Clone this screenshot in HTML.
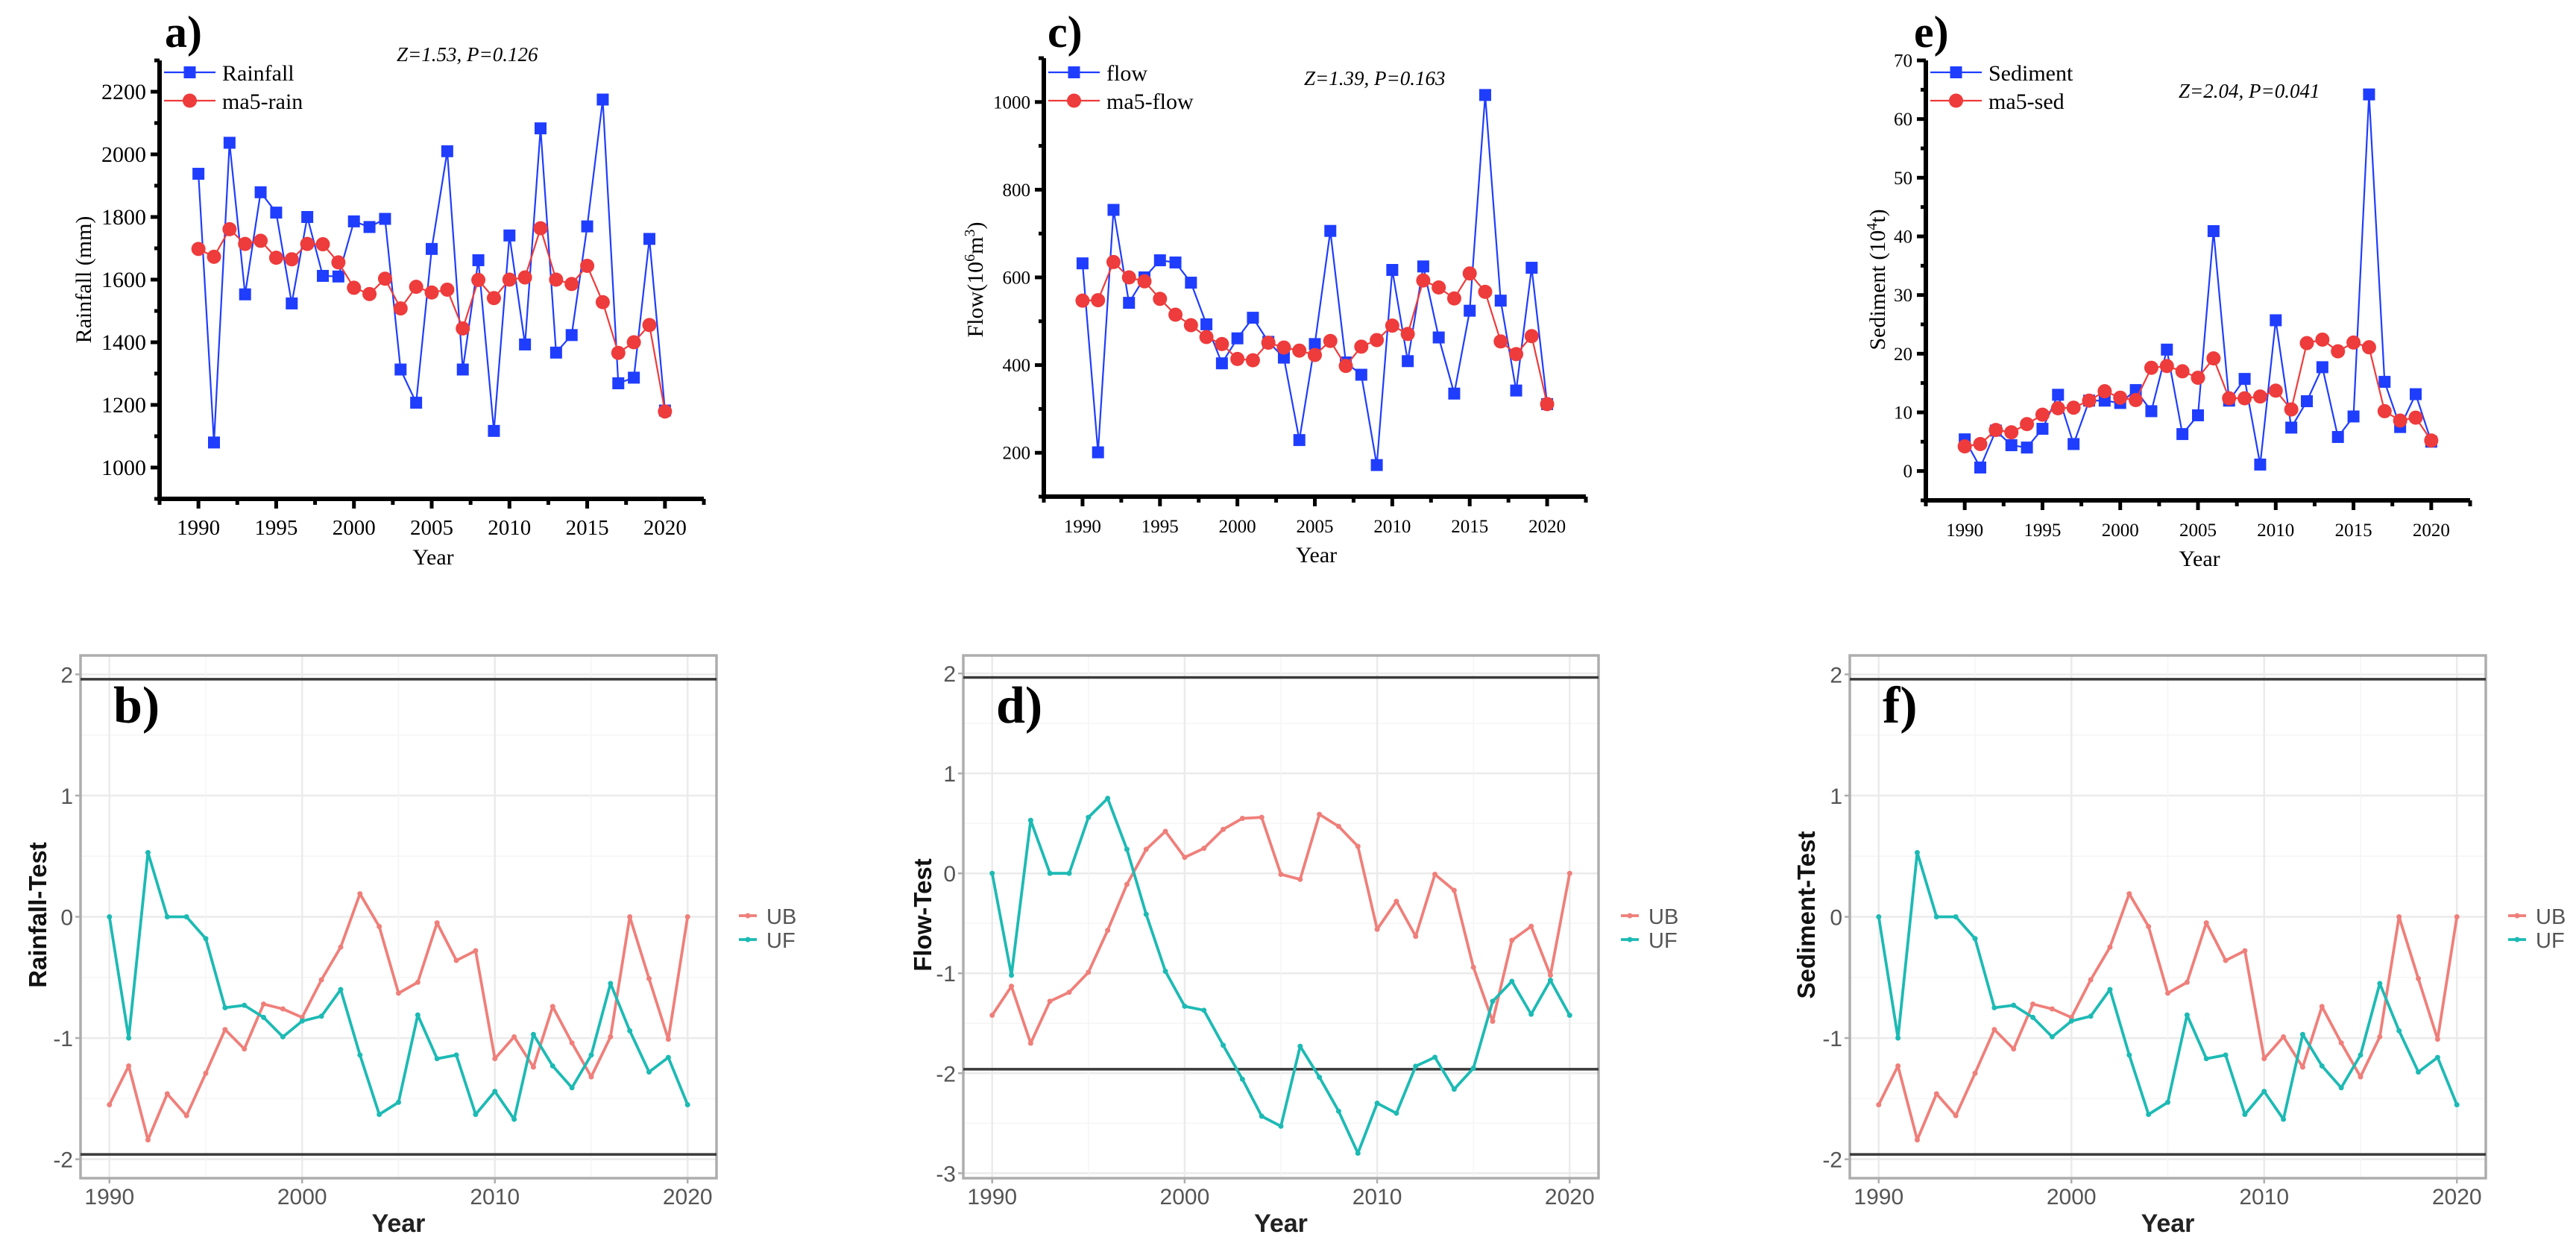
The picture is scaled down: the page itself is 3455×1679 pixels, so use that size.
<!DOCTYPE html>
<html><head><meta charset="utf-8">
<style>
html,body{margin:0;padding:0;background:#fff;}
svg{display:block;}
</style></head>
<body>
<svg id="fig" width="3455" height="1679" viewBox="0 0 3455 1679" xmlns="http://www.w3.org/2000/svg"></svg>
<script>
const years = [];
for (let y = 1990; y <= 2020; y++) years.push(y);

const rainfall = [1938,1080,2037,1553,1879,1814,1524,1800,1612,1610,1786,1768,1794,1313,1207,1698,2010,1313,1662,1117,1741,1393,2083,1367,1423,1770,2175,1269,1287,1730,1182];
const ma5Rain = [1698,1673,1761,1714,1724,1670,1665,1714,1713,1655,1574,1554,1603,1508,1577,1559,1568,1444,1599,1541,1600,1607,1764,1600,1586,1644,1528,1366,1400,1455,1179];
const flow = [632,201,754,542,600,639,634,588,493,404,461,508,453,417,229,448,706,406,378,172,617,409,625,463,335,524,1016,547,342,622,311];
const ma5Flow = [547,548,635,600,591,551,515,491,464,448,414,411,451,440,433,423,455,398,442,457,490,471,593,577,552,609,567,454,425,466,311];
const sediment = [5.4,0.6,6.9,4.4,4.0,7.2,13.0,4.6,12.0,12.0,11.6,13.8,10.2,20.7,6.3,9.5,40.9,12.0,15.7,1.1,25.7,7.4,11.9,17.7,5.8,9.3,64.2,15.2,7.5,13.1,5.0];
const ma5Sed = [4.2,4.6,7.0,6.6,8.0,9.6,10.7,10.8,12.0,13.6,12.5,12.1,17.6,17.9,17.0,15.9,19.2,12.4,12.4,12.7,13.7,10.5,21.8,22.4,20.4,21.9,21.1,10.2,8.6,9.1,5.2];

const rainUB = [-1.55,-1.23,-1.84,-1.46,-1.64,-1.29,-0.93,-1.09,-0.72,-0.76,-0.83,-0.52,-0.25,0.19,-0.08,-0.63,-0.54,-0.05,-0.36,-0.28,-1.17,-0.99,-1.24,-0.74,-1.04,-1.32,-0.99,0,-0.51,-1.01,0];
const rainUF = [0,-1.0,0.53,0,0,-0.18,-0.75,-0.73,-0.83,-0.99,-0.86,-0.82,-0.60,-1.14,-1.63,-1.53,-0.81,-1.17,-1.14,-1.63,-1.44,-1.67,-0.97,-1.23,-1.41,-1.14,-0.55,-0.94,-1.28,-1.16,-1.55];
const flowUB = [-1.42,-1.13,-1.70,-1.28,-1.19,-0.99,-0.57,-0.11,0.24,0.42,0.16,0.25,0.44,0.55,0.56,-0.01,-0.06,0.59,0.47,0.27,-0.56,-0.28,-0.63,-0.01,-0.17,-0.94,-1.48,-0.67,-0.53,-1.02,0];
const flowUF = [0,-1.02,0.53,0,0,0.56,0.75,0.24,-0.41,-0.98,-1.33,-1.37,-1.72,-2.06,-2.43,-2.53,-1.73,-2.04,-2.38,-2.80,-2.30,-2.40,-1.93,-1.84,-2.16,-1.95,-1.28,-1.08,-1.41,-1.07,-1.42];
const sedUB = rainUB.slice();
const sedUF = rainUF.slice();

const topXTicks = [1990,1995,2000,2005,2010,2015,2020];
const bottomXTicks = [1990,2000,2010,2020];

const NS = "http://www.w3.org/2000/svg";
const svg = document.getElementById('fig');
function mk(tag, attrs, parent, text) {
  const e = document.createElementNS(NS, tag);
  for (const k in attrs) e.setAttribute(k, attrs[k]);
  if (text !== undefined) e.textContent = text;
  (parent || svg).appendChild(e);
  return e;
}
const SERIF = '"Liberation Serif", serif';
const SANS = '"Liberation Sans", sans-serif';

function topPanel(cfg) {
  const g = mk('g', {});
  
  
  const xs = v => cfg.L + (v - 1987.5) / 35 * (cfg.R - cfg.L);
  const ys = v => cfg.B - (v - cfg.ymin) / (cfg.ymax - cfg.ymin) * (cfg.B - cfg.T);
  // axes
  const ax = mk('path', {d:`M${cfg.L} ${cfg.T} V${cfg.B} H${cfg.R}`, fill:'none', stroke:'#000', 'stroke-width':6}, g);
  
  
  // y ticks
  for (let v = cfg.ymin; v <= cfg.ymax + 1e-9; v += cfg.minor) {
    const major = Math.abs(((v - cfg.y0) / cfg.step) - Math.round((v - cfg.y0) / cfg.step)) < 1e-6 && v >= cfg.y0 && v <= cfg.y1;
    const y = ys(v);
    mk('line', {x1:cfg.L, x2:cfg.L - (major ? 12 : 7), y1:y, y2:y, stroke:'#000', 'stroke-width':5}, g);
    if (major) {
      const t = mk('text', {x:cfg.L - 18, y:y + cfg.yfs*0.34, 'text-anchor':'end', 'font-family':SERIF, 'font-size':cfg.yfs}, g, String(Math.round(v)));
      
      
    }
  }
  // x ticks
  for (let v = 1987.5; v <= 2022.5 + 1e-9; v += 2.5) {
    const major = (v % 5) === 0;
    const x = xs(v);
    mk('line', {x1:x, x2:x, y1:cfg.B, y2:cfg.B + (major ? 13 : 8), stroke:'#000', 'stroke-width':5}, g);
  }
  topXTicks.forEach(v => {
    const t = mk('text', {x:xs(v), y:cfg.B + 48, 'text-anchor':'middle', 'font-family':SERIF, 'font-size':cfg.xfs}, g, String(v));
    
    
  });
  const xt = mk('text', {x:(cfg.L + cfg.R) / 2 + 2, y:cfg.B + 88, 'text-anchor':'middle', 'font-family':SERIF, 'font-size':30}, g, 'Year');
  
  
  const yt = mk('text', {x:0, y:0, transform:`translate(${cfg.ytx},375) rotate(-90)`, 'text-anchor':'middle', 'font-family':SERIF, 'font-size':30}, g);
  
  
  yt.innerHTML = cfg.ytitle;
  // series
  const lineA = years.map((yr, i) => `${i ? 'L' : 'M'}${xs(yr)} ${ys(cfg.s1[i])}`).join(' ');
  const lineB = years.map((yr, i) => `${i ? 'L' : 'M'}${xs(yr)} ${ys(cfg.s2[i])}`).join(' ');
  const pa = mk('path', {d:lineA, fill:'none', stroke:'#1f3dff', 'stroke-width':2.2}, g);
  
  
  years.forEach((yr, i) => {
    const r = mk('rect', {x:xs(yr) - 8, y:ys(cfg.s1[i]) - 8, width:16, height:16, fill:'#1f3dff'}, g);
    
    
  });
  const pb = mk('path', {d:lineB, fill:'none', stroke:'#ee3b3b', 'stroke-width':2.2}, g);
  
  
  years.forEach((yr, i) => {
    const c = mk('circle', {cx:xs(yr), cy:ys(cfg.s2[i]), r:9.5, fill:'#ee3b3b'}, g);
    
    
  });
  // legend
  const lg = mk('g', {}, g);
  
  
  const lx = cfg.L + 6, lw = 69;
  mk('line', {x1:lx, x2:lx + lw, y1:97, y2:97, stroke:'#1f3dff', 'stroke-width':2.2}, lg);
  mk('rect', {x:lx + lw/2 - 8, y:89, width:16, height:16, fill:'#1f3dff'}, lg);
  mk('text', {x:lx + lw + 9, y:108, 'font-family':SERIF, 'font-size':30}, lg, cfg.l1);
  mk('line', {x1:lx, x2:lx + lw, y1:135, y2:135, stroke:'#ee3b3b', 'stroke-width':2.2}, lg);
  mk('circle', {cx:lx + lw/2, cy:135, r:9.5, fill:'#ee3b3b'}, lg);
  mk('text', {x:lx + lw + 9, y:146, 'font-family':SERIF, 'font-size':30}, lg, cfg.l2);
  const z = mk('text', {x:cfg.zx, y:cfg.zy, 'font-family':SERIF, 'font-style':'italic', 'font-size':27}, g, cfg.ztext);
  
  
  const pl = mk('text', {x:cfg.px, y:63, 'font-family':SERIF, 'font-weight':'bold', 'font-size':60}, g, cfg.plabel);
  
  
}

topPanel({name:'panel-a-rainfall', L:214, R:944, T:81, B:669, ymin:900, ymax:2300, y0:1000, y1:2200, step:200, minor:100, yfs:30, xfs:29,
  s1:rainfall, s2:ma5Rain, l1:'Rainfall', l2:'ma5-rain', ztext:'Z=1.53, P=0.126', zx:532, zy:82, px:221, plabel:'a)', ytx:122, ytitle:'Rainfall (mm)'});
topPanel({name:'panel-c-flow', L:1400, R:2127, T:78, B:666, ymin:100, ymax:1100, y0:200, y1:1000, step:200, minor:100, yfs:25, xfs:25,
  s1:flow, s2:ma5Flow, l1:'flow', l2:'ma5-flow', ztext:'Z=1.39, P=0.163', zx:1749, zy:114, px:1405, plabel:'c)', ytx:1318, ytitle:'Flow(10<tspan baseline-shift="super" font-size="20">6</tspan>m<tspan baseline-shift="super" font-size="20">3</tspan>)'});
topPanel({name:'panel-e-sediment', L:2583, R:3313, T:81, B:671, ymin:-5, ymax:70, y0:0, y1:70, step:10, minor:5, yfs:25, xfs:25,
  s1:sediment, s2:ma5Sed, l1:'Sediment', l2:'ma5-sed', ztext:'Z=2.04, P=0.041', zx:2922, zy:131, px:2567, plabel:'e)', ytx:2528, ytitle:'Sediment (10<tspan baseline-shift="super" font-size="20">4</tspan>t)'});

function bottomPanel(cfg) {
  const g = mk('g', {});
  
  
  const T = 879, B = 1580;
  const xs = v => cfg.L + (v - 1988.5) / 33 * (cfg.R - cfg.L);
  const ys = v => B - (v - cfg.ymin) / (cfg.ymax - cfg.ymin) * (B - T);
  // minor grid
  for (let v = Math.ceil(cfg.ymin * 2) / 2; v <= cfg.ymax; v += 0.5) {
    const major = Math.abs(v - Math.round(v)) < 1e-6;
    mk('line', {x1:cfg.L, x2:cfg.R, y1:ys(v), y2:ys(v), stroke: major ? '#ebebeb' : '#f5f5f5', 'stroke-width': major ? 2.5 : 1.5}, g);
  }
  for (let v = 1990; v <= 2020; v += 5) {
    const major = v % 10 === 0;
    mk('line', {x1:xs(v), x2:xs(v), y1:T, y2:B, stroke: major ? '#ebebeb' : '#f5f5f5', 'stroke-width': major ? 2.5 : 1.5}, g);
  }
  const border = mk('rect', {x:cfg.L, y:T, width:cfg.R - cfg.L, height:B - T, fill:'none', stroke:'#adadad', 'stroke-width':3.5}, g);
  
  
  // hlines
  [1.96, -1.96].forEach(v => {
    const h = mk('line', {x1:cfg.L, x2:cfg.R, y1:ys(v), y2:ys(v), stroke:'#3a3a3a', 'stroke-width':3.5}, g);
    
    
  });
  // y ticks
  for (let v = Math.ceil(cfg.ymin); v <= Math.floor(cfg.ymax); v++) {
    mk('line', {x1:cfg.L - 7, x2:cfg.L, y1:ys(v), y2:ys(v), stroke:'#adadad', 'stroke-width':2.5}, g);
    const t = mk('text', {x:cfg.L - 10, y:ys(v) + 11, 'text-anchor':'end', 'font-family':SANS, 'font-size':30, fill:'#555'}, g, String(v));
    
    
  }
  bottomXTicks.forEach(v => {
    mk('line', {x1:xs(v), x2:xs(v), y1:B, y2:B + 7, stroke:'#adadad', 'stroke-width':2.5}, g);
    const t = mk('text', {x:xs(v), y:B + 35, 'text-anchor':'middle', 'font-family':SANS, 'font-size':30, fill:'#555'}, g, String(v));
    
    
  });
  const xt = mk('text', {x:(cfg.L + cfg.R) / 2, y:1652, 'text-anchor':'middle', 'font-family':SANS, 'font-weight':'bold', 'font-size':34, fill:'#222'}, g, 'Year');
  
  
  const yt = mk('text', {x:0, y:0, transform:`translate(${cfg.ytx},1227) rotate(-90)`, 'text-anchor':'middle', 'font-family':SANS, 'font-weight':'bold', 'font-size':33, fill:'#111'}, g, cfg.ytitle);
  
  
  const series = [[cfg.ub, '#ef7f7a', 'ub'], [cfg.uf, '#1dbab4', 'uf']];
  series.forEach(([vals, col, nm]) => {
    const d = years.map((yr, i) => `${i ? 'L' : 'M'}${xs(yr)} ${ys(vals[i])}`).join(' ');
    const p = mk('path', {d:d, fill:'none', stroke:col, 'stroke-width':3.8, 'stroke-linejoin':'round'}, g);
    
    
    years.forEach((yr, i) => {
      const c = mk('circle', {cx:xs(yr), cy:ys(vals[i]), r:3.5, fill:col}, g);
      
      
    });
  });
  const lg = mk('g', {}, g);
  
  
  const lx = cfg.R + 30;
  mk('line', {x1:lx, x2:lx + 24, y1:1228, y2:1228, stroke:'#ef7f7a', 'stroke-width':3.8}, lg);
  mk('circle', {cx:lx + 12, cy:1228, r:3.5, fill:'#ef7f7a'}, lg);
  mk('text', {x:lx + 37, y:1239, 'font-family':SANS, 'font-size':29, fill:'#555'}, lg, 'UB');
  mk('line', {x1:lx, x2:lx + 24, y1:1260, y2:1260, stroke:'#1dbab4', 'stroke-width':3.8}, lg);
  mk('circle', {cx:lx + 12, cy:1260, r:3.5, fill:'#1dbab4'}, lg);
  mk('text', {x:lx + 37, y:1271, 'font-family':SANS, 'font-size':29, fill:'#555'}, lg, 'UF');
  const pl = mk('text', {x:cfg.L + 44, y:969, 'font-family':SERIF, 'font-weight':'bold', 'font-size':70}, g, cfg.plabel);
  
  
}

bottomPanel({name:'panel-b-rainfall-test', L:108, R:961, ymin:-2.156, ymax:2.156, ub:rainUB, uf:rainUF, ytitle:'Rainfall-Test', ytx:62, plabel:'b)'});
bottomPanel({name:'panel-d-flow-test', L:1292, R:2144, ymin:-3.05, ymax:2.18, ub:flowUB, uf:flowUF, ytitle:'Flow-Test', ytx:1249, plabel:'d)'});
bottomPanel({name:'panel-f-sediment-test', L:2481, R:3334, ymin:-2.156, ymax:2.156, ub:sedUB, uf:sedUF, ytitle:'Sediment-Test', ytx:2434, plabel:'f)'});
</script>
</body></html>
